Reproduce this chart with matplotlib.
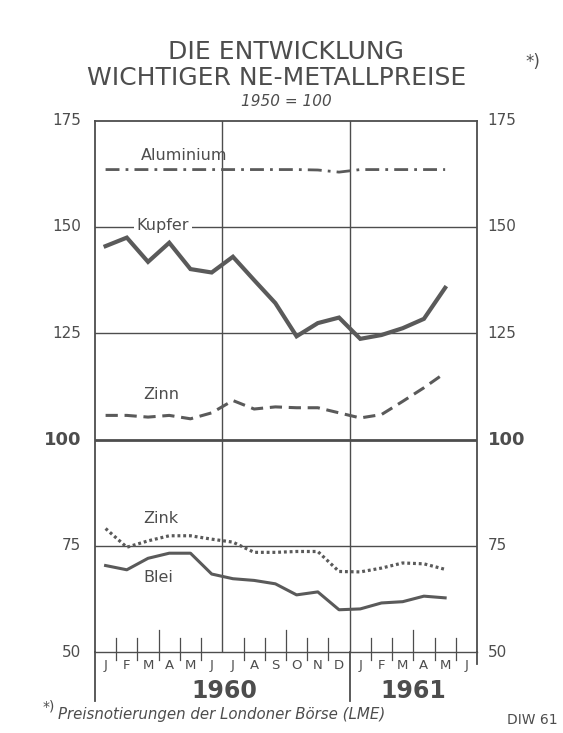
import numpy as np
import matplotlib
matplotlib.use("Agg")
import matplotlib.pyplot as plt

# Monthly index values, 1950 = 100 (Jan 1960 .. May 1961)
months = ["J", "F", "M", "A", "M", "J", "J", "A", "S", "O", "N", "D",
          "J", "F", "M", "A", "M", "J"]
aluminium = [163.5, 163.5, 163.5, 163.5, 163.5, 163.5, 163.5, 163.5, 163.5,
             163.5, 163.4, 162.9, 163.5, 163.5, 163.5, 163.5, 163.5]
kupfer = [145.5, 147.5, 141.8, 146.3, 140.1, 139.3, 143.0, 137.5, 132.1,
          124.3, 127.4, 128.7, 123.7, 124.6, 126.2, 128.4, 135.7]
zinn = [105.7, 105.7, 105.3, 105.7, 104.9, 106.3, 109.2, 107.2, 107.7,
        107.5, 107.5, 106.3, 105.1, 105.9, 109.0, 112.2, 115.7]
zink = [79.1, 74.7, 76.2, 77.4, 77.4, 76.6, 75.9, 73.5, 73.5,
        73.7, 73.7, 69.0, 68.9, 69.8, 71.0, 70.8, 69.5]
blei = [70.4, 69.4, 72.1, 73.3, 73.3, 68.4, 67.3, 66.9, 66.1,
        63.5, 64.2, 60.0, 60.2, 61.6, 61.9, 63.2, 62.8]
years = ["1960", "1961"]
yticks = [50, 75, 100, 125, 150, 175]

INK = "#4d4d4d"
LINE = "#5a5a5a"

fig = plt.figure(figsize=(5.63, 7.33), dpi=100)
ax = fig.add_axes([0.1687, 0.1101, 0.6785, 0.7253])
ax.set_xlim(0, 18)
ax.set_ylim(50, 175)
ax.set_xticks([])
ax.set_yticks([])
for s in ax.spines.values():
    s.set_color(INK)
    s.set_linewidth(1.3)
ax.spines["bottom"].set_linewidth(1.0)

# grid
for v in [75, 125, 150]:
    ax.axhline(v, color=INK, lw=1.0, zorder=1)
ax.axhline(100, color=INK, lw=2.0, zorder=1)
for m in [6, 12]:
    ax.axvline(m, color=INK, lw=1.0, zorder=1)

# month ticks, quarter ticks taller
for i in range(1, 18):
    if i in (6, 12):
        continue
    h = 5.2 if i % 6 == 3 else 3.3
    ax.plot([i, i], [50, 50 + h], color=INK, lw=0.9, zorder=1)
    ax.plot([i, i], [50, 48.3], color=INK, lw=0.9, clip_on=False)

x = np.arange(len(kupfer)) + 0.5
ax.plot(x, aluminium, color=LINE, lw=2.0, dashes=(5, 2.2, 1, 2.2), zorder=3)
ax.plot(x, kupfer, color=LINE, lw=3.0, solid_joinstyle="miter", zorder=3)
ax.plot(x, zinn, color=LINE, lw=2.2, dashes=(4, 2.2), zorder=3)
ax.plot(x, zink, color=LINE, lw=2.3, dashes=(0.9, 0.9), zorder=3)
ax.plot(x, blei, color=LINE, lw=2.2, zorder=3)

# series labels
lab = dict(color=INK, fontsize=11.5, ha="center", va="center", zorder=4)
ax.text(4.2, 166.8, "Aluminium", **lab)
ax.text(3.2, 150.3, "Kupfer", bbox=dict(fc="white", ec="none", pad=2), **lab)
ax.text(3.1, 110.5, "Zinn", **lab)
ax.text(3.1, 81.5, "Zink", **lab)
ax.text(3.0, 67.5, "Blei", **lab)

# y labels both sides
for v in yticks:
    big = v == 100
    kw = dict(color=INK, va="center", fontsize=13 if big else 11,
              fontweight="bold" if big else "normal")
    ax.text(-0.65, v, str(v), ha="right", **kw)
    ax.text(18.5, v, str(v), ha="left", **kw)

# right frame only down to axis, extend left frame and Jan-61 line below
ax.spines["right"].set_bounds(50, 175)
for m in [0, 12]:
    ax.plot([m, m], [50, 38.5], color=INK, lw=1.3, clip_on=False)
ax.plot([18, 18], [50, 47.3], color=INK, lw=1.3, clip_on=False)

for i, mth in enumerate(months):
    ax.text(i + 0.5, 47.0, mth, ha="center", va="center", color=INK,
            fontsize=9.5)
ax.text(6.1, 41.0, years[0], ha="center", va="center", color=INK,
        fontsize=17, fontweight="bold")
ax.text(15.0, 41.0, years[1], ha="center", va="center", color=INK,
        fontsize=17, fontweight="bold")

# title block
fig.text(286 / 563, 1 - 52 / 733, "DIE ENTWICKLUNG", ha="center",
         va="center", color=INK, fontsize=18)
fig.text(277 / 563, 1 - 78 / 733, "WICHTIGER NE-METALLPREISE", ha="center",
         va="center", color=INK, fontsize=18)
fig.text(533 / 563, 1 - 62 / 733, "*)", ha="center", va="center", color=INK,
         fontsize=12)
fig.text(286 / 563, 1 - 101 / 733, "1950 = 100", ha="center", va="center",
         color=INK, fontsize=11, style="italic")

# footnote
fig.text(0.075, 1 - 706 / 733, "*)", ha="left", va="center", color=INK,
         fontsize=10)
fig.text(0.103, 1 - 715 / 733, "Preisnotierungen der Londoner Börse (LME)",
         ha="left", va="center", color=INK, fontsize=10.8, style="italic")
fig.text(0.99, 1 - 720 / 733, "DIW 61", ha="right", va="center",
         color=INK, fontsize=10)

fig.savefig("out.png", dpi=100, facecolor="white")
